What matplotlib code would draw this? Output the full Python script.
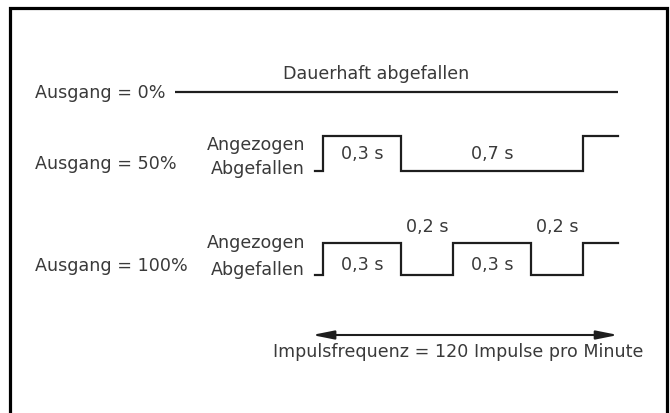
import matplotlib.pyplot as plt
import numpy as np
from matplotlib.patches import FancyArrowPatch

plt.rcParams['font.family'] = ['DejaVu Sans']

# row labels and the pulse timing (seconds), pulses start high at t = 0
rows = ['Ausgang = 0%', 'Ausgang = 50%', 'Ausgang = 100%']
state_labels = ['Angezogen', 'Abgefallen']
durations_50 = [0.3, 0.7]
durations_100 = [0.3, 0.2, 0.3, 0.2]
off_text = 'Dauerhaft abgefallen'
freq_text = 'Impulsfrequenz = 120 Impulse pro Minute'
period_span = 1.0   # two periods of 0.5 s -> 120 pulses per minute

# layout: x axis in seconds, y axis in pixels (top = 0)
X0, PX = 323, 260.0
def sx(p):
    return (p - X0) / PX

fig = plt.figure(figsize=(6.7, 4.14), dpi=100)
ax = fig.add_axes([0, 0, 1, 1])
ax.set_xlim(sx(0), sx(670))
ax.set_ylim(414, 0)
ax.axis('off')

lc = '#1e1e1e'
tc = '#3a3a3a'
fs = 12.6
lead, tail = 0.03, 0.135


def pulse_train(durations, y_high, y_low):
    edges = np.concatenate([[-lead, 0], np.cumsum(durations), [period_span + tail]])
    levels = [0] + [1 - (i % 2) for i in range(len(durations))] + [1, 1]
    ys = [y_low - lv * (y_low - y_high) for lv in levels]
    ax.step(edges, ys, where='post', color=lc, lw=1.6, solid_joinstyle='miter')
    mids = np.cumsum(durations) - np.array(durations) / 2
    return mids


# 0 %
ax.hlines(92.7, sx(175), period_span + tail, color=lc, lw=1.6)
ax.text(sx(35), 98.3, rows[0], fontsize=fs, color=tc, va='baseline')
ax.text(sx(376), 79.3, off_text, fontsize=fs, color=tc, va='baseline', ha='center')

# 50 %
mids = pulse_train(durations_50, 137, 172)
ax.text(sx(35), 169.5, rows[1], fontsize=fs, color=tc, va='baseline')
ax.text(sx(305), 150, state_labels[0], fontsize=fs, color=tc, va='baseline', ha='right')
ax.text(sx(305), 174, state_labels[1], fontsize=fs, color=tc, va='baseline', ha='right')
for m, d in zip(mids, durations_50):
    ax.text(m, 159, f'{d:.1f} s'.replace('.', ','), fontsize=fs, color=tc,
            va='baseline', ha='center')

# 100 %
mids = pulse_train(durations_100, 244, 276)
ax.text(sx(35), 271, rows[2], fontsize=fs, color=tc, va='baseline')
ax.text(sx(305), 248, state_labels[0], fontsize=fs, color=tc, va='baseline', ha='right')
ax.text(sx(305), 275, state_labels[1], fontsize=fs, color=tc, va='baseline', ha='right')
for i, (m, d) in enumerate(zip(mids, durations_100)):
    y = 270 if i % 2 == 0 else 232
    ax.text(m, y, f'{d:.1f} s'.replace('.', ','), fontsize=fs, color=tc,
            va='baseline', ha='center')

# frequency arrow
arr = FancyArrowPatch((sx(312), 336), (period_span + tail, 336),
                      arrowstyle='<|-|>,head_length=13,head_width=2.6',
                      mutation_scale=1, color=lc, lw=1.5, shrinkA=0, shrinkB=0)
ax.add_patch(arr)
ax.text(sx(458), 357, freq_text, fontsize=fs, color=tc, va='baseline', ha='center')

# frame (open at the bottom)
ax.plot([sx(10), sx(10), sx(667), sx(667)], [420, 8.5, 8.5, 420],
        color='black', lw=2.3, solid_joinstyle='miter', clip_on=False)

plt.savefig('out.png', dpi=100)
